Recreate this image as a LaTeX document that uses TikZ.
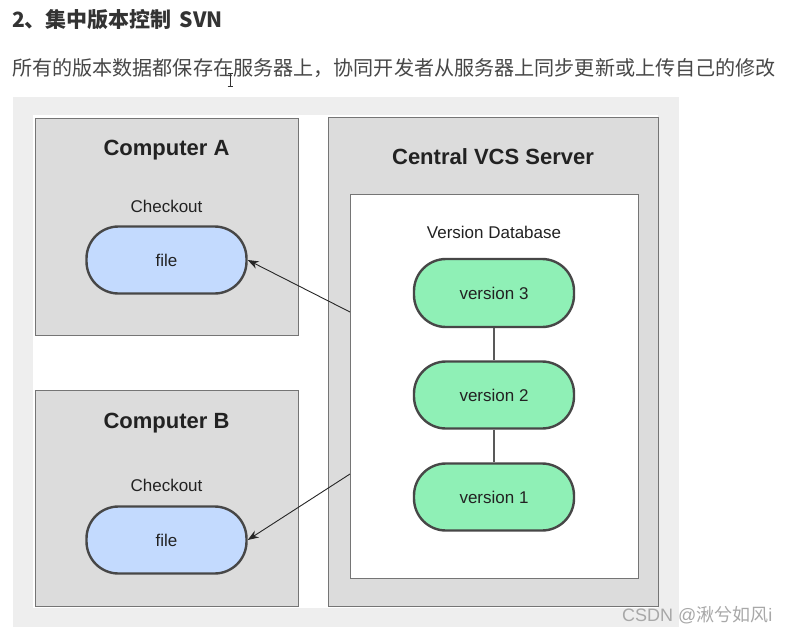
\documentclass[tikz,border=0pt]{standalone}
\usepackage{fontspec}
\setmainfont{Liberation Sans}
\newfontfamily\cjk{Noto Sans CJK SC}
\usetikzlibrary{arrows.meta}
\definecolor{panel}{HTML}{EEEEEE}
\definecolor{boxgray}{HTML}{DCDCDC}
\definecolor{boxline}{HTML}{757575}
\definecolor{pillline}{HTML}{474747}
\definecolor{fileblue}{HTML}{C3DAFE}
\definecolor{vergreen}{HTML}{8FF0B6}
\definecolor{txt}{HTML}{222222}
\definecolor{head}{HTML}{333333}
\definecolor{wm}{HTML}{A8A8A8}
\begin{document}
\begin{tikzpicture}[x=1pt,y=-1pt,
  box/.style={draw=boxline, line width=1.4pt, fill=boxgray, anchor=north west, inner sep=0pt},
  dbbox/.style={draw=boxline, line width=1.4pt, fill=white, anchor=north west, inner sep=0pt},
  pill/.style={draw=pillline, line width=2.4pt, rounded corners=32pt, minimum width=160pt, minimum height=67pt, inner sep=0pt, text=txt, font=\fontsize{17}{20}\selectfont},
  filepill/.style={pill, fill=fileblue},
  verpill/.style={pill, fill=vergreen},
  boxtitle/.style={text=txt, font=\fontsize{22}{26}\selectfont\bfseries},
  lbl/.style={text=txt, font=\fontsize{17}{20}\selectfont},
  arr/.style={draw=black!85, line width=0.9pt, -{Stealth[length=11pt,width=8pt]}},
  link/.style={draw=black!65, line width=1.3pt}
]
\useasboundingbox (0,0) rectangle (788,633);
\fill[white] (0,0) rectangle (788,633);
% headings
\node[anchor=west, text=head, inner sep=0pt, font=\cjk\fontsize{21}{24}\selectfont\bfseries] (title) at (12,20) {2、集中版本控制\hspace{8pt}SVN};
\node[anchor=west, text=head!90, inner sep=0pt, font=\cjk\fontsize{20.1}{24}\selectfont] (sub) at (12,68) {所有的版本数据都保存在服务器上，协同开发者从服务器上同步更新或上传自己的修改};
% text cursor
\draw[black!80, line width=0.8pt] (230,73) -- (230,86) (227.5,73) -- (232.5,73) (227.5,86) -- (232.5,86);
% panel
\fill[panel] (13,97) rectangle (679,627);
\fill[white] (33,115) rectangle (658,608);
% computer A
\node[box, minimum width=263pt, minimum height=217pt] (compA) at (35,118) {};
\node[boxtitle] (titleA) at (166.5,150) {Computer A};
\node[lbl] (chkA) at (166.5,206) {Checkout};
\node[filepill] (fileA) at (166.5,260) {file};
% computer B
\node[box, minimum width=263pt, minimum height=216pt] (compB) at (35,390) {};
\node[boxtitle] (titleB) at (166.5,423) {Computer B};
\node[lbl] (chkB) at (166.5,485) {Checkout};
\node[filepill] (fileB) at (166.5,540) {file};
% server
\node[box, minimum width=330pt, minimum height=489pt] (server) at (328,117) {};
\node[boxtitle] (stitle) at (493,157) {Central VCS Server};
\node[dbbox, minimum width=288pt, minimum height=384pt] (db) at (350,194) {};
\node[lbl] (dblabel) at (494,232) {Version Database};
\node[verpill, minimum height=68pt] (v3) at (494,293) {version 3};
\node[verpill] (v2) at (494,395) {version 2};
\node[verpill] (v1) at (494,497) {version 1};
\draw[link] (v3.south) -- (v2.north);
\draw[link] (v2.south) -- (v1.north);
% arrows
\coordinate (sa) at (350,312);
\coordinate (sb) at (350,474);
\draw[arr] (sa) -- (fileA.east);
\draw[arr] (sb) -- (fileB.east);
% watermark
\node[anchor=west, text=wm, inner sep=0pt, font=\fontsize{18}{21}\selectfont] (wmark) at (622,615) {CSDN @{\cjk 湫兮如风}i};
\end{tikzpicture}
\end{document}
